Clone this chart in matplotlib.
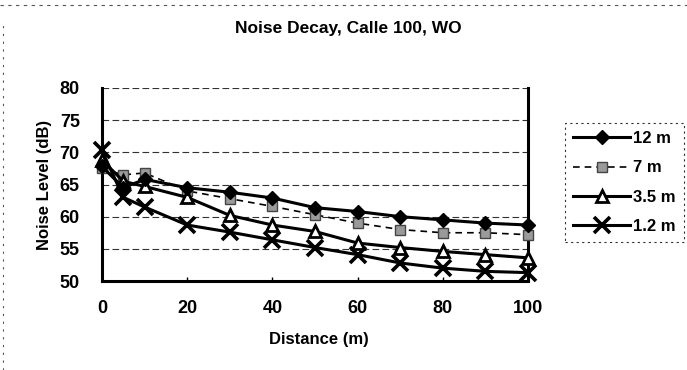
import numpy as np
import matplotlib
matplotlib.use("Agg")
import matplotlib.pyplot as plt
from matplotlib.lines import Line2D

# Noise decay readings (dB) vs distance from roadway
distance = [0, 5, 10, 20, 30, 40, 50, 60, 70, 80, 90, 100]
h_12m = [67.8, 64.5, 65.8, 64.5, 63.8, 62.9, 61.4, 60.8, 60.0, 59.5, 59.0, 58.7]
h_7m = [67.5, 66.5, 66.8, 64.0, 62.8, 61.6, 60.3, 59.0, 58.0, 57.5, 57.5, 57.2]
h_35m = [68.8, 65.5, 64.7, 63.0, 60.2, 58.7, 57.7, 55.9, 55.2, 54.6, 54.1, 53.6]
h_1_2m = [70.3, 63.0, 61.5, 58.7, 57.6, 56.4, 55.2, 54.1, 52.8, 52.0, 51.5, 51.3]
labels = ["12 m", "7 m", "3.5 m", "1.2 m"]
xticks = [0, 20, 40, 60, 80, 100]
yticks = [50, 55, 60, 65, 70, 75, 80]

plt.rcParams['font.family'] = ['Liberation Sans', 'DejaVu Sans']

fig = plt.figure(figsize=(6.87, 3.70), dpi=100)
W, H = 687, 370
ax = fig.add_axes([102 / W, 1 - 281 / H, (528 - 102) / W, (281 - 88) / H])

ax.plot(distance, h_12m, color='black', lw=2.2, marker='D', ms=7,
        mfc='black', mec='black', label=labels[0], clip_on=False, zorder=5)
ax.plot(distance, h_7m, color='black', lw=1.2, ls=(0, (4, 3)), marker='s', ms=7,
        mfc='#9a9a9a', mec='#444444', label=labels[1], clip_on=False, zorder=4)
ax.plot(distance, h_35m, color='black', lw=2.2, marker='^', ms=9,
        mfc='white', mec='black', mew=2.0, label=labels[2], clip_on=False, zorder=4)
ax.plot(distance, h_1_2m, color='black', lw=2.2, marker='x', ms=11,
        mew=2.6, label=labels[3], clip_on=False, zorder=4)

ax.set_xlim(0, 100)
ax.set_ylim(50, 80)
ax.set_xticks(xticks)
ax.set_yticks(yticks)
ax.tick_params(axis='x', direction='in', length=3, width=1, pad=14,
               labelsize=13)
ax.tick_params(axis='y', length=0, pad=16, labelsize=13)
for lab in ax.get_xticklabels() + ax.get_yticklabels():
    lab.set_fontweight('bold')

for v in yticks[1:]:
    ax.axhline(v, color='#333333', lw=0.8, ls=(0, (6, 3)), zorder=1)

ax.spines['top'].set_visible(False)
for s in ['left', 'bottom', 'right']:
    ax.spines[s].set_linewidth(2.2)

ax.set_xlabel("Distance (m)", fontsize=12, fontweight='bold')
ax.xaxis.set_label_coords(0.51, 1 - (332 - 88) / (281 - 88))
ax.set_ylabel("Noise Level (dB)", fontsize=12, fontweight='bold')
ax.yaxis.set_label_coords(-(102 - 52) / (528 - 102), 0.5)
fig.text(348 / W, 1 - 29 / H, "Noise Decay, Calle 100, WO", ha='center',
         va='center', fontsize=12.5, fontweight='bold')

leg = ax.legend(loc='upper left', bbox_to_anchor=(565 / W, 1 - 123 / H),
                bbox_transform=fig.transFigure, borderaxespad=0,
                frameon=True, fancybox=False,
                fontsize=12, handlelength=3.4, labelspacing=0.85,
                borderpad=0.5, handletextpad=0.2)
leg.get_frame().set_edgecolor('black')
leg.get_frame().set_linestyle((0, (2, 3)))
leg.get_frame().set_linewidth(0.8)
for t in leg.get_texts():
    t.set_fontweight('bold')

# dotted border of the chart area
fig.add_artist(Line2D([0, 1], [1 - 5 / H, 1 - 5 / H], color='#555555',
                      lw=0.8, ls=(0, (3, 4)), transform=fig.transFigure))
fig.add_artist(Line2D([3 / W, 3 / W], [0, 1 - 20 / H], color='#555555',
                      lw=0.8, ls=(0, (2, 5)), transform=fig.transFigure))

fig.savefig("out.png", dpi=100)
